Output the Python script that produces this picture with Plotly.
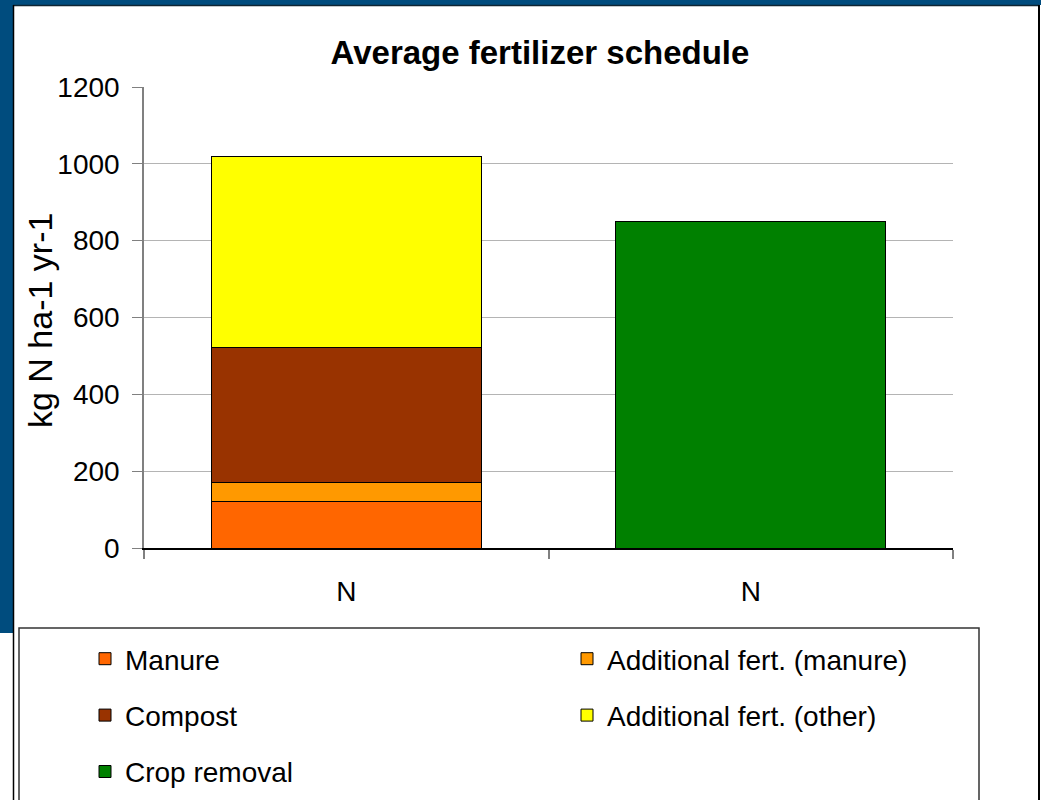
import plotly.graph_objects as go

categories = ["N1", "N2"]
tick_labels = ["N", "N"]
series_names = ["Manure", "Additional fert. (manure)", "Compost", "Additional fert. (other)", "Crop removal"]
manure = [120, 0]
add_manure = [50, 0]
compost = [352, 0]
add_other = [498, 0]
crop_removal = [0, 850]
colors = ["#FF6600", "#FF9900", "#993300", "#FFFF00", "#008000"]
legend_ids = ["legend", "legend2", "legend", "legend2", "legend"]
y_title = "kg N ha-1 yr-1"

W, H = 1041, 800
L, R, T, B = 144, 953, 87, 548

def px(x):
    return (x - L) / (R - L)

def py(y):
    return (B - y) / (B - T)

fig = go.Figure()
for name, vals, col, lg in zip(series_names, [manure, add_manure, compost, add_other, crop_removal], colors, legend_ids):
    xs = [c for c, v in zip(categories, vals) if v]
    ys = [v for v in vals if v]
    fig.add_trace(go.Bar(x=xs, y=ys, name=name, marker=dict(color=col, line=dict(color="#000000", width=1)),
                         legend=lg, legendgroup=name))

font_family = "Liberation Sans, Arial, sans-serif"
shapes = [
    # legend box
    dict(type="rect", xref="paper", yref="paper", x0=px(19), x1=px(979), y0=py(628), y1=py(810),
         line=dict(color="#333333", width=1.5), fillcolor="white", layer="below"),
    # blue frame
    dict(type="rect", xref="paper", yref="paper", x0=px(0), x1=px(13), y0=py(0), y1=py(633),
         line=dict(width=0), fillcolor="#004C7E"),
    dict(type="rect", xref="paper", yref="paper", x0=px(0), x1=px(1041), y0=py(0), y1=py(5),
         line=dict(width=0), fillcolor="#004C7E"),
    dict(type="line", xref="paper", yref="paper", x0=px(13), x1=px(1039), y0=py(5.5), y1=py(5.5),
         line=dict(color="#0F2533", width=1.5)),
    dict(type="line", xref="paper", yref="paper", x0=px(13.5), x1=px(13.5), y0=py(5), y1=py(800),
         line=dict(color="#000000", width=1.5)),
    dict(type="line", xref="paper", yref="paper", x0=px(1039), x1=px(1039), y0=py(5), y1=py(800),
         line=dict(color="#000000", width=2)),
]

fig.update_layout(
    width=W, height=H,
    margin=dict(l=L, r=W - R, t=T, b=H - B, autoexpand=False),
    barmode="stack", bargap=0.333,
    paper_bgcolor="white", plot_bgcolor="white",
    font=dict(family=font_family, size=28, color="#000000"),
    title=dict(text="<b>Average fertilizer schedule</b>", x=px(540), xanchor="center", xref="paper",
               y=1 - 52 / H, yanchor="middle", font=dict(size=33, family=font_family)),
    xaxis=dict(type="category", categoryorder="array", categoryarray=categories,
               tickvals=categories, ticktext=tick_labels, tickson="boundaries",
               ticks="outside", ticklen=9, tickcolor="#808080", tickwidth=1.5,
               showline=True, linecolor="#000000", linewidth=1.5, showgrid=False,
               range=[-0.5, 1.5], tickfont=dict(size=28), ticklabelstandoff=18),
    yaxis=dict(range=[0, 1200], dtick=200, ticks="outside", ticklen=10, tickcolor="#808080",
               showline=True, linecolor="#808080", linewidth=1.5,
               showgrid=True, gridcolor="#B4B4B4", gridwidth=1, zeroline=False,
               tickfont=dict(size=28), ticklabelstandoff=7),
    annotations=[dict(text=y_title, xref="paper", yref="paper", x=px(40), y=py(321),
                      xanchor="center", yanchor="middle", textangle=-90, showarrow=False,
                      font=dict(size=34))],
    legend=dict(x=85 / W, xref="container", xanchor="left", y=1 - 634 / H, yref="container", yanchor="top",
                bgcolor="rgba(0,0,0,0)", tracegroupgap=17, font=dict(size=28), traceorder="grouped"),
    legend2=dict(x=567 / W, xref="container", xanchor="left", y=1 - 634 / H, yref="container", yanchor="top",
                 bgcolor="rgba(0,0,0,0)", tracegroupgap=17, font=dict(size=28), traceorder="grouped"),
    shapes=shapes,
    showlegend=True,
)

fig.write_html("out.html", config={"displayModeBar": False},
               post_script="document.body.style.margin='0';document.body.style.overflow='hidden';")
